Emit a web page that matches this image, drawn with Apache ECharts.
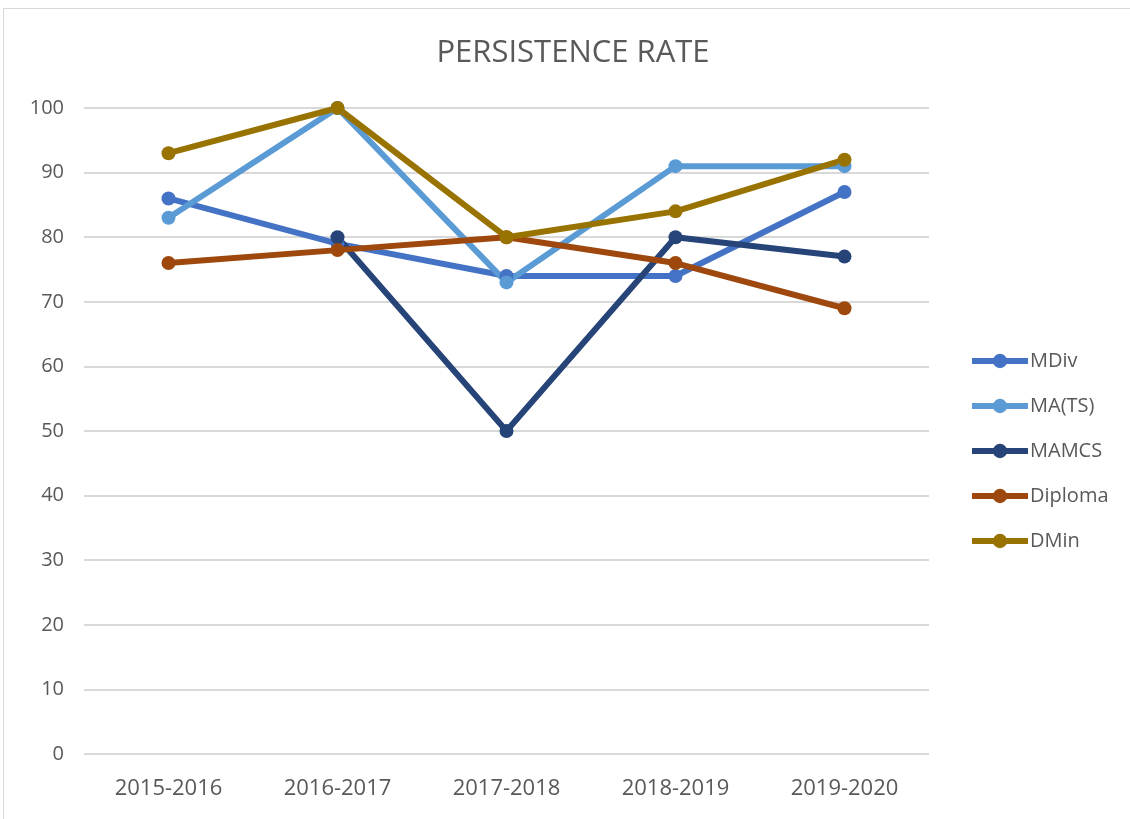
<!DOCTYPE html>
<html>
<head>
<meta charset="utf-8">
<script src="https://cdn.jsdelivr.net/npm/echarts@6/dist/echarts.min.js"></script>
<style>
  html, body { margin: 0; padding: 0; background: #fff; }
  #main { position: absolute; left: 3px; top: 8px; width: 1140px; height: 830px;
          border: 1px solid #d9d9d9; box-sizing: border-box; }
</style>
</head>
<body>
<div id="main"></div>
<script>
var years = ['2015-2016', '2016-2017', '2017-2018', '2018-2019', '2019-2020'];
var mdiv = [86, 79, 74, 74, 87];
var mats = [83, 100, 73, 91, 91];
var mamcs = [null, 80, 50, 80, 77];
var diploma = [76, 78, 80, 76, 69];
var dmin = [93, 100, 80, 84, 92];

var names = ['MDiv', 'MA(TS)', 'MAMCS', 'Diploma', 'DMin'];
var colors = ['#4472C4', '#5B9BD5', '#264478', '#9E480E', '#997300'];
var values = [mdiv, mats, mamcs, diploma, dmin];

var dom = document.getElementById('main');
var myChart = echarts.init(dom);

var series = names.map(function (n, i) {
    return {
        name: n,
        type: 'line',
        data: values[i],
        color: colors[i],
        symbol: 'circle',
        symbolSize: 14,
        lineStyle: { width: 6 },
        itemStyle: { color: colors[i] },
        animation: false
    };
});

var option = {
    title: {
        text: 'PERSISTENCE RATE',
        left: 'center',
        top: 24,
        textStyle: { fontFamily: 'Open Sans', fontWeight: 'normal', fontSize: 31, color: '#595959' }
    },
    legend: {
        orient: 'vertical',
        left: 960,
        top: 337,
        itemGap: 25,
        itemWidth: 56,
        itemHeight: 18,
        data: names,
        lineStyle: { width: 6 },
        textStyle: { fontFamily: 'Open Sans', fontSize: 20, color: '#595959', padding: [0, 0, 0, -3] }
    },
    grid: { left: 80, right: 213, top: 99, bottom: 83, containLabel: false },
    xAxis: {
        type: 'category',
        data: years,
        boundaryGap: true,
        axisLine: { show: false },
        axisTick: { show: false },
        axisLabel: { fontFamily: 'Open Sans', fontSize: 22, color: '#595959', margin: 24 }
    },
    yAxis: {
        type: 'value',
        min: 0,
        max: 100,
        interval: 10,
        axisLine: { show: false },
        axisTick: { show: false },
        axisLabel: { fontFamily: 'Open Sans', fontSize: 20, color: '#595959', margin: 20 },
        splitLine: { lineStyle: { color: '#d9d9d9', width: 2 } }
    },
    series: series
};

if (option && typeof option === 'object') {
    myChart.setOption(option, true);
}
</script>
</body>
</html>
